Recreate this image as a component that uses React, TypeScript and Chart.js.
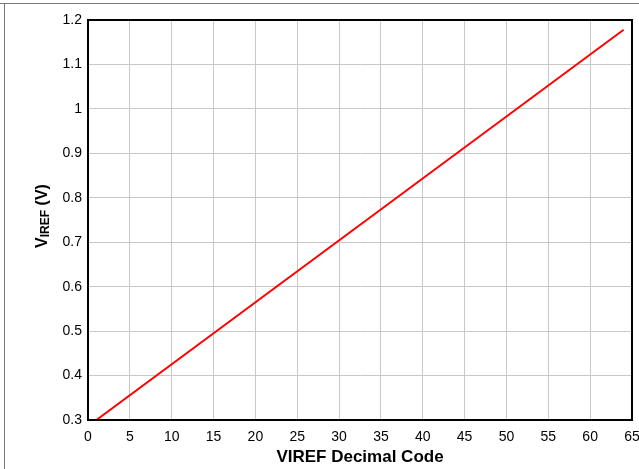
import React, { useEffect, useRef } from "react";
import { Chart, registerables } from "chart.js";

Chart.register(...registerables);

const xValues = [1, 64];
const yValues = [0.3, 1.178];
const xTitle = "VIREF Decimal Code";
const yTitleMain = "V";
const yTitleSub = "IREF";
const yTitleTail = " (V)";

const framePlugin = {
  id: "framePlugin",
  afterDraw(chart: any) {
    const { ctx, chartArea } = chart;
    ctx.save();
    ctx.strokeStyle = "#000";
    ctx.lineWidth = 2;
    ctx.strokeRect(chartArea.left, chartArea.top, chartArea.right - chartArea.left, chartArea.bottom - chartArea.top);
    // x title
    ctx.fillStyle = "#000";
    ctx.font = "bold 17px 'Liberation Sans', Arial, sans-serif";
    ctx.textAlign = "center";
    ctx.textBaseline = "alphabetic";
    ctx.fillText(xTitle, (chartArea.left + chartArea.right) / 2, 462);
    // y title with subscript
    const big = "bold 16px 'Liberation Sans', Arial, sans-serif";
    const small = "bold 12px 'Liberation Sans', Arial, sans-serif";
    ctx.font = big;
    const w1 = ctx.measureText(yTitleMain).width;
    const w3 = ctx.measureText(yTitleTail).width;
    ctx.font = small;
    const w2 = ctx.measureText(yTitleSub).width;
    const total = w1 + w2 + w3;
    const cy = 216;
    ctx.translate(47, cy);
    ctx.rotate(-Math.PI / 2);
    ctx.textAlign = "left";
    let x = -total / 2;
    ctx.font = big;
    ctx.fillText(yTitleMain, x, 0);
    x += w1;
    ctx.font = small;
    ctx.fillText(yTitleSub, x, 2);
    x += w2;
    ctx.font = big;
    ctx.fillText(yTitleTail, x, 0);
    ctx.restore();
  },
};

export default function App() {
  const ref = useRef<HTMLCanvasElement>(null);
  useEffect(() => {
    if (!ref.current) return;
    const chart = new Chart(ref.current, {
      type: "scatter",
      data: {
        datasets: [
          {
            data: xValues.map((x, i) => ({ x, y: yValues[i] })),
            showLine: true,
            borderColor: "#ff0000",
            backgroundColor: "#ff0000",
            borderWidth: 2,
            pointRadius: 0,
          },
        ],
      },
      options: {
        animation: false,
        responsive: false,
        maintainAspectRatio: false,
        layout: { padding: { left: 0, right: 7, top: 20, bottom: 0 } },
        plugins: { legend: { display: false }, tooltip: { enabled: false } },
        scales: {
          x: {
            type: "linear",
            min: 0,
            max: 65,
            ticks: {
              stepSize: 5,
              color: "#000",
              font: { family: "'Liberation Sans', Arial, sans-serif", size: 14 },
              padding: 9,
              maxRotation: 0,
            },
            grid: { color: "#c8c8c8", lineWidth: 1, drawTicks: false },
            border: { color: "#000", width: 2 },
            afterFit: (s: any) => {
              s.height = 49;
              s.paddingLeft = 0;
              s.paddingRight = 0;
            },
          },
          y: {
            type: "linear",
            min: 0.3,
            max: 1.2,
            ticks: {
              stepSize: 0.1,
              color: "#000",
              font: { family: "'Liberation Sans', Arial, sans-serif", size: 14 },
              padding: 6,
              callback: (v: any) => String(Math.round(Number(v) * 10) / 10),
            },
            grid: { color: "#c8c8c8", lineWidth: 1, drawTicks: false },
            border: { color: "#000", width: 2 },
            afterFit: (s: any) => {
              s.width = 88;
              s.paddingTop = 0;
              s.paddingBottom = 0;
            },
          },
        },
      },
      plugins: [framePlugin],
    });
    return () => chart.destroy();
  }, []);
  return (
    <div style={{ position: "absolute", left: 0, top: 0, width: 639, height: 469, background: "#fff" }}>
      <canvas ref={ref} width={639} height={469} style={{ position: "absolute", left: 0, top: 0 }} />
      <div style={{ position: "absolute", left: 0, top: 3, width: 639, height: 0, borderTop: "1px solid #777" }} />
      <div style={{ position: "absolute", left: 4, top: 3, width: 0, height: 466, borderLeft: "1px solid #777" }} />
    </div>
  );
}
